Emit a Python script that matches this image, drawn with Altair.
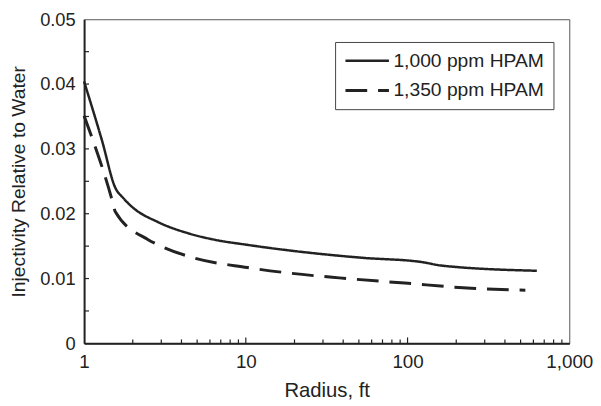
import altair as alt
import pandas as pd

# --- data ---
series_names = ["1,000 ppm HPAM", "1,350 ppm HPAM"]

radius_1000 = [1.0, 1.29, 1.56, 1.75, 1.97, 2.87, 4.38, 6.37, 10.2, 20.6, 52.6, 122, 162, 630]
inj_1000 = [0.0404, 0.0313, 0.0240, 0.0224, 0.0211, 0.0187, 0.0170, 0.0160, 0.0152, 0.0142,
            0.0132, 0.01255, 0.0120, 0.0112]

radius_1350 = [1.0, 1.49, 1.56, 2.49, 2.87, 4.58, 10.2, 19.2, 37.8, 96, 247, 535]
inj_1350 = [0.0351, 0.0221, 0.0203, 0.0160, 0.0152, 0.0133, 0.0117, 0.0108, 0.0101,
            0.0093, 0.0085, 0.0082]

x_label_values = [1, 10, 100, 1000]
x_major_ticks = [10, 100]
x_minor_ticks = [m * d for d in [1, 10, 100] for m in range(2, 10)]
y_label_values = [0, 0.01, 0.02, 0.03, 0.04, 0.05]
y_ticks = [0.005, 0.01, 0.015, 0.02, 0.025, 0.03, 0.035, 0.04, 0.045]

W, H = 491, 328
FONT = "Liberation Sans"
INK = "#222222"

df = pd.concat([
    pd.DataFrame({"r": radius_1000, "v": inj_1000, "s": series_names[0]}),
    pd.DataFrame({"r": radius_1350, "v": inj_1350, "s": series_names[1]}),
])

xscale = alt.Scale(type="log", domain=[1, 1000], nice=False)
yscale = alt.Scale(domain=[0, 0.05], nice=False, zero=True)

xaxis = alt.Axis(values=x_label_values, format=",", ticks=False, tickSize=0, grid=False,
                 labelPadding=9, labelFontSize=19, labelFont=FONT, labelColor=INK,
                 titleFontSize=20.5, titleFont=FONT, titleColor=INK, titleFontWeight="normal",
                 titlePadding=10, domainColor=INK, domainWidth=2, labelFlush=False)
yaxis = alt.Axis(values=y_label_values, ticks=False, tickSize=0, grid=False,
                 labelExpr="datum.value == 0 ? '0' : format(datum.value, '.2f')",
                 labelPadding=9, labelFontSize=18.5, labelFont=FONT, labelColor=INK,
                 titleFontSize=19.5, titleFont=FONT, titleColor=INK, titleFontWeight="normal",
                 titlePadding=11, domainColor=INK, domainWidth=2)

X = alt.X("r:Q", scale=xscale, axis=xaxis, title="Radius, ft")
Y = alt.Y("v:Q", scale=yscale, axis=yaxis, title="Injectivity Relative to Water")

lines = alt.Chart(df).mark_line(color=INK, strokeCap="butt", strokeJoin="round",
                                interpolate="monotone").encode(
    x=X,
    y=Y,
    strokeDash=alt.StrokeDash(
        "s:N",
        scale=alt.Scale(domain=series_names, range=[[1, 0], [22, 11]]),
        legend=alt.Legend(title=None, orient="none", legendX=254, legendY=23,
                          strokeColor="#444444", padding=9, labelFontSize=19.5,
                          labelFont=FONT, labelColor=INK, symbolType="stroke",
                          symbolSize=1936, symbolStrokeWidth=3, symbolStrokeColor=INK,
                          clipHeight=20, rowPadding=10, labelOffset=3, labelLimit=300),
    ),
    strokeWidth=alt.StrokeWidth("s:N", scale=alt.Scale(domain=series_names, range=[2.5, 3]),
                                legend=None),
)

yt = alt.Chart(pd.DataFrame({"v": y_ticks})).mark_rule(color=INK, strokeWidth=1.2).encode(
    y=Y, x=alt.value(0), x2=alt.value(5)
)
xmin = alt.Chart(pd.DataFrame({"r": x_minor_ticks})).mark_rule(color=INK, strokeWidth=1.2).encode(
    x=X, y=alt.value(H), y2=alt.value(H - 4)
)
xmaj = alt.Chart(pd.DataFrame({"r": x_major_ticks})).mark_rule(color=INK, strokeWidth=1.2).encode(
    x=X, y=alt.value(H), y2=alt.value(H - 6)
)

chart = alt.layer(yt, xmin, xmaj, lines).properties(
    width=W, height=H,
    autosize=alt.AutoSizeParams(type="none"),
    padding={"left": 77, "top": 9, "right": 24, "bottom": 61},
    background="white",
).configure_view(stroke="#555555", strokeWidth=1)

chart.save("out.html", embed_options={"renderer": "svg", "actions": False})
